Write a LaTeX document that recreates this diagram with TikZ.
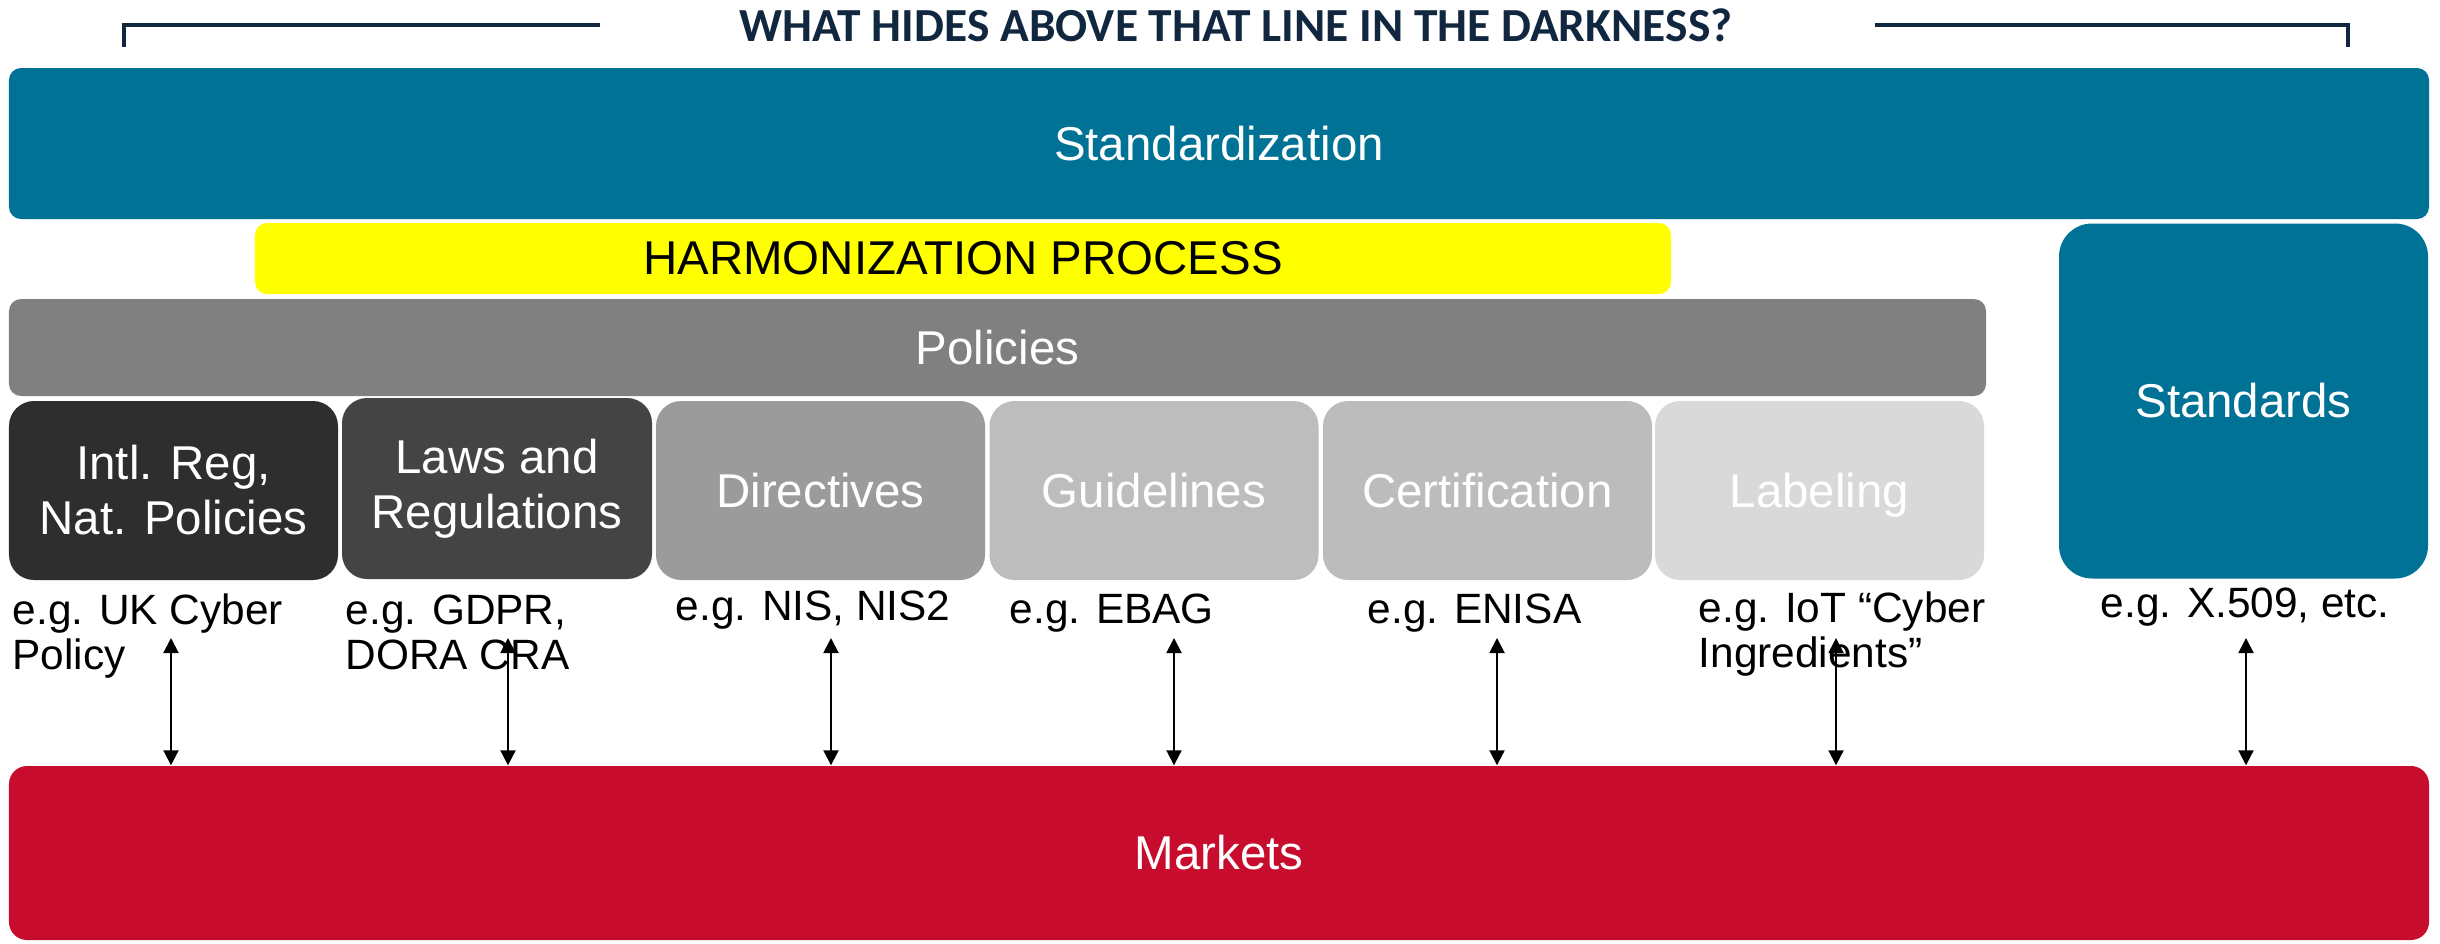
\documentclass[tikz,border=0pt]{standalone}
\usepackage{fontspec}
\setmainfont{Liberation Sans}
\newfontfamily\headfont{Carlito}
\usepackage{tikz}
\usetikzlibrary{shapes,arrows,arrows.meta}

\definecolor{stdblue}{RGB}{0,114,150}
\definecolor{harmyellow}{RGB}{255,255,0}
\definecolor{policygray}{RGB}{128,128,128}
\definecolor{intlgray}{RGB}{46,46,46}
\definecolor{lawsgray}{RGB}{68,68,68}
\definecolor{dirgray}{RGB}{155,155,155}
\definecolor{guidegray}{RGB}{189,189,189}
\definecolor{certgray}{RGB}{188,188,188}
\definecolor{labelgray}{RGB}{217,217,217}
\definecolor{marketred}{RGB}{200,12,46}
\definecolor{titlenavy}{RGB}{17,39,64}

\newcommand{\labelfont}{\fontsize{13.5}{15.65}\selectfont}
\newcommand{\examplefont}{\fontsize{12.06}{12.8}\selectfont\lineskiplimit=-50pt}

\tikzstyle{bar} = [rectangle, rounded corners=1.2mm, inner sep=0pt,
    text=white, font=\labelfont]
\tikzstyle{block} = [rectangle, rounded corners=2.5mm, inner sep=0pt, align=center,
    text=white, font=\labelfont, minimum width=32.9mm, minimum height=17.9mm]
\tikzstyle{example} = [anchor=base west, align=left, inner sep=0pt, font=\examplefont]
\tikzstyle{line} = [draw, line width=0.2mm,
    {Triangle[length=1.5mm,width=1.5mm]}-{Triangle[length=1.5mm,width=1.5mm]}]
\tikzstyle{bracket} = [draw, line width=0.35mm, color=titlenavy]

\begin{document}
\begin{tikzpicture}[x=1mm, y=1mm]
      \useasboundingbox (0,0) rectangle (244,94.3);

      % title with its bracket
      \node [anchor=base, inner sep=0pt, text=titlenavy, font=\headfont\bfseries\fontsize{13.5}{16}\selectfont]
         (title) at (123.6,90.2) {WHAT HIDES ABOVE THAT LINE IN THE DARKNESS?};
      \draw [bracket] (12.4,89.6) -- (12.4,91.8) -- (60.0,91.8);
      \draw [bracket] (187.5,91.8) -- (234.8,91.8) -- (234.8,89.6);

      \node [bar, fill=stdblue, minimum width=242mm, minimum height=15.1mm]
         (standardization) at (121.9,79.95) {Standardization};
      \node [bar, fill=harmyellow, text=black, minimum width=141.6mm, minimum height=7.1mm]
         (harmonization) at (96.3,68.45) {HARMONIZATION PROCESS};
      \node [bar, fill=policygray, minimum width=197.7mm, minimum height=9.7mm]
         (policies) at (99.75,59.55) {Policies};
      \node [bar, fill=stdblue, rounded corners=3.3mm, minimum width=36.9mm, minimum height=35.5mm]
         (standards) at (224.35,54.2) {Standards};

      \node [block, fill=intlgray] (intl) at (17.35,45.25) {Intl. Reg,\\Nat. Policies};
      \node [block, right of=intl, node distance=32.35mm, fill=lawsgray, yshift=0.2mm,
         minimum width=31mm, minimum height=18.1mm] (laws) {Laws and\\Regulations};
      \node [block, right of=intl, node distance=64.7mm, fill=dirgray] (directives) {Directives};
      \node [block, right of=directives, node distance=33.35mm, fill=guidegray] (guidelines) {Guidelines};
      \node [block, right of=guidelines, node distance=33.35mm, fill=certgray] (certification)
         {Certification};
      \node [block, right of=certification, node distance=33.2mm, fill=labelgray, text depth=0pt]
         (labeling) {Labeling};

      \node [bar, fill=marketred, rounded corners=1.8mm, minimum width=242mm, minimum height=17.4mm]
         (markets) at (121.9,9.0) {Markets};

      % examples under each block
      \node [example] (exintl) at (1.2,27.4) {e.g. UK Cyber\\Policy};
      \node [example] (exlaws) at (34.5,27.4) {e.g. GDPR,\\DORA CRA};
      \node [example] (exdir) at (67.5,32.3) {e.g. NIS, NIS2};
      \node [example] (exguide) at (100.9,32.0) {e.g. EBAG};
      \node [example] (excert) at (136.7,32.0) {e.g. ENISA};
      \node [example] (exlabel) at (169.8,27.6) {e.g. IoT “Cyber\\Ingredients”};
      \node [example] (exstd) at (210.0,32.6) {e.g. X.509, etc.};

      \coordinate (a1) at (17.1,30.5);
      \coordinate (a2) at (50.8,30.5);
      \coordinate (a3) at (83.1,30.5);
      \coordinate (a4) at (117.4,30.5);
      \coordinate (a5) at (149.7,30.5);
      \coordinate (a6) at (183.6,30.5);
      \coordinate (a7) at (224.6,30.5);

      \path [line] (a1) -- (a1 |- markets.north);
      \path [line] (a2) -- (a2 |- markets.north);
      \path [line] (a3) -- (a3 |- markets.north);
      \path [line] (a4) -- (a4 |- markets.north);
      \path [line] (a5) -- (a5 |- markets.north);
      \path [line] (a6) -- (a6 |- markets.north);
      \path [line] (a7) -- (a7 |- markets.north);
\end{tikzpicture}
\end{document}
